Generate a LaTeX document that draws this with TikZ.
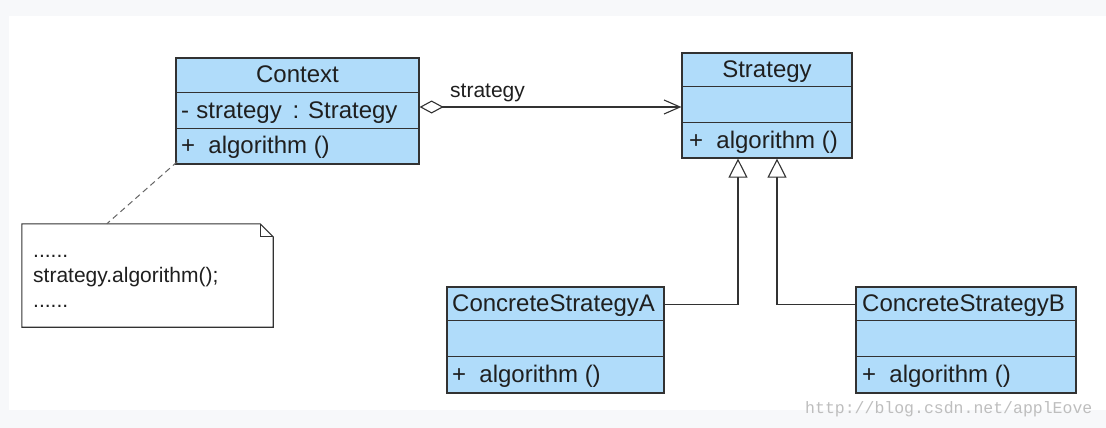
\documentclass[tikz,border=0pt]{standalone}
\usepackage{fontspec}
\setmainfont{Liberation Sans}
\newfontfamily\wmfont{Liberation Mono}
\usetikzlibrary{arrows.meta}
\definecolor{clsfill}{RGB}{176,220,250}
\definecolor{edge}{RGB}{50,50,50}
\definecolor{outerbg}{RGB}{247,248,250}
\definecolor{wm}{RGB}{190,190,190}
\begin{document}
\begin{tikzpicture}[x=1pt,y=-1pt,
  classbox/.style={draw=edge, fill=clsfill, line width=1.2pt, inner sep=0pt},
  sep/.style={draw=edge, line width=1.2pt},
  ctext/.style={inner sep=0pt, font=\fontsize{24}{28}\selectfont, text=black!88},
  ntext/.style={inner sep=0pt, font=\fontsize{21}{24}\selectfont, text=black!88, anchor=base west},
  agg/.style={draw=edge, line width=1.1pt, {Diamond[open,length=24pt,width=13pt]}-{Straight Barb[length=16pt,width=14pt]}},
  inh/.style={draw=edge, line width=1.1pt, -{Triangle[open,length=19pt,width=19pt,fill=white]}},
  notebox/.style={inner sep=0pt, minimum width=251pt, minimum height=103pt},
]
\fill[outerbg] (0,0) rectangle (1106,428);
\fill[white] (9,16) rectangle (1106,410);
\useasboundingbox (0,0) rectangle (1106,428);

% Context
\node[classbox, minimum width=243pt, minimum height=106pt] (ctx) at (297.5,111) {};
\draw[sep] ([yshift=-35pt]ctx.north west) -- ([yshift=-35pt]ctx.north east);
\draw[sep] ([yshift=-71pt]ctx.north west) -- ([yshift=-71pt]ctx.north east);
\node[ctext, anchor=base] (ctxname) at (297.5,83) {Context};
\node[ctext, anchor=base west] (ctxattr) at (181,118) {-\hspace{0.3em}strategy\hspace{0.45em}: Strategy};
\node[ctext, anchor=base west] (ctxop) at (181,153) {+\hspace{0.55em}algorithm ()};

% Strategy
\node[classbox, minimum width=170pt, minimum height=105pt] (str) at (767,105.5) {};
\draw[sep] ([yshift=-34pt]str.north west) -- ([yshift=-34pt]str.north east);
\draw[sep] ([yshift=-70pt]str.north west) -- ([yshift=-70pt]str.north east);
\node[ctext, anchor=base] (strname) at (767,77.5) {Strategy};
\node[ctext, anchor=base west] (strop) at (689,148) {+\hspace{0.55em}algorithm ()};

% ConcreteStrategyA
\node[classbox, minimum width=217pt, minimum height=106pt] (csa) at (555.5,340) {};
\draw[sep] ([yshift=-34pt]csa.north west) -- ([yshift=-34pt]csa.north east);
\draw[sep] ([yshift=-70pt]csa.north west) -- ([yshift=-70pt]csa.north east);
\node[ctext, anchor=base west] (csaname) at (452,311.5) {ConcreteStrategyA};
\node[ctext, anchor=base west] (csaop) at (452,382.5) {+\hspace{0.55em}algorithm ()};

% ConcreteStrategyB
\node[classbox, minimum width=220pt, minimum height=106pt] (csb) at (966,340) {};
\draw[sep] ([yshift=-34pt]csb.north west) -- ([yshift=-34pt]csb.north east);
\draw[sep] ([yshift=-70pt]csb.north west) -- ([yshift=-70pt]csb.north east);
\node[ctext, anchor=base west] (csbname) at (862,311.5) {ConcreteStrategyB};
\node[ctext, anchor=base west] (csbop) at (862,382.5) {+\hspace{0.55em}algorithm ()};

% aggregation
\draw[agg] ([yshift=4pt]ctx.east) -- ([yshift=4pt]ctx.east -| str.west);
\node[inner sep=0pt, anchor=base west, font=\fontsize{21}{24}\selectfont, text=black!88] (lbl) at (450,97) {strategy};

% inheritance
\draw[inh] ([yshift=-18pt]csa.north east) -| ([xshift=-29pt]str.south);
\draw[inh] ([yshift=-18pt]csb.north west) -| ([xshift=10pt]str.south);

% note
\node[notebox] (note) at (147.5,275.5) {};
\draw[draw=edge, line width=1.1pt, fill=white] (note.north west) -- ([xshift=-13pt]note.north east) -- ([yshift=-13pt]note.north east) -- (note.south east) -- (note.south west) -- cycle;
\draw[edge, line width=1.1pt] ([xshift=-13pt]note.north east) |- ([yshift=-13pt]note.north east);
\node[ntext] (n1) at (33,257) {......};
\node[ntext] (n2) at (33,282) {strategy.algorithm();};
\node[ntext] (n3) at (33,307) {......};
\draw[edge!75, line width=1pt, dash pattern=on 6pt off 4pt] ([xshift=2pt,yshift=3pt]ctx.south west) -- ([xshift=85pt]note.north west);

% watermark
\node[anchor=base west, inner sep=0pt, text=wm, font=\wmfont\fontsize{16.5}{18}\selectfont] (wmk) at (805,413) {http://blog.csdn.net/applEove};
\end{tikzpicture}
\end{document}
